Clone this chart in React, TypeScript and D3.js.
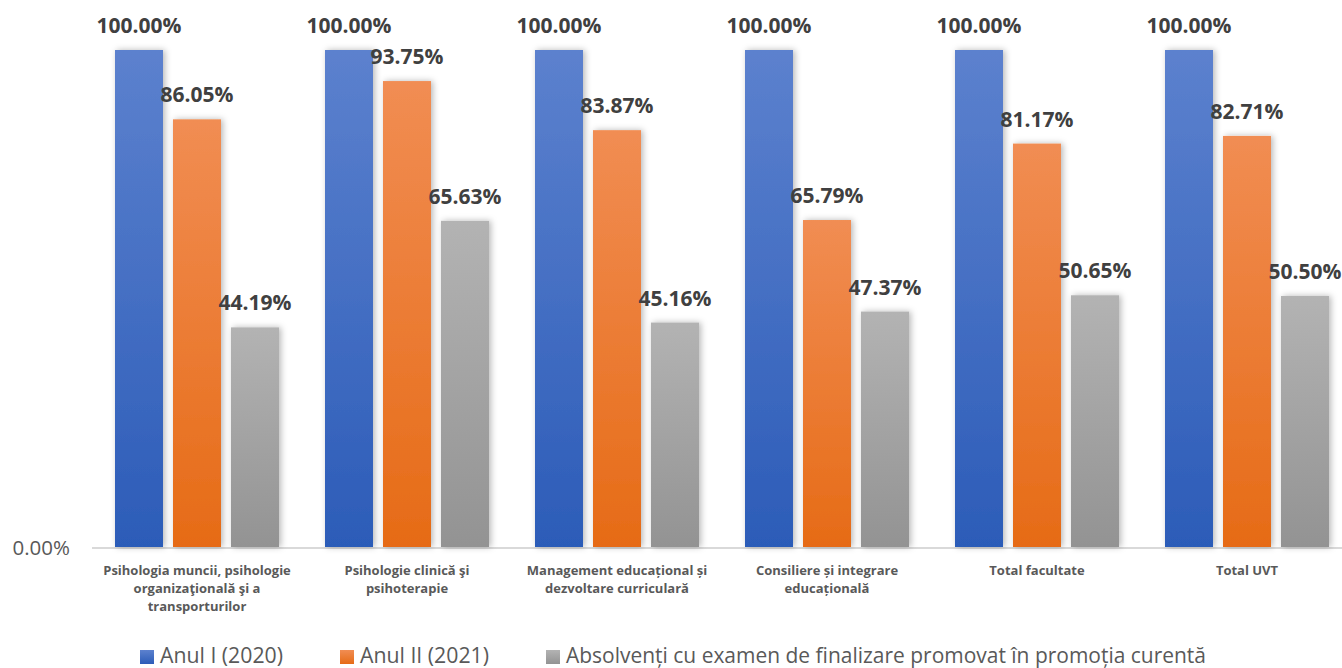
import React from "react";
import * as d3 from "d3";

const categories: string[][] = [
  ["Psihologia muncii, psihologie", "organizaţională şi a", "transporturilor"],
  ["Psihologie clinică şi", "psihoterapie"],
  ["Management educațional și", "dezvoltare curriculară"],
  ["Consiliere și integrare", "educațională"],
  ["Total facultate"],
  ["Total UVT"],
];
const seriesNames = ["Anul I (2020)", "Anul II (2021)", "Absolvenți cu examen de finalizare promovat în promoția curentă"];
const anulI = [100, 100, 100, 100, 100, 100];
const anulII = [86.05, 93.75, 83.87, 65.79, 81.17, 82.71];
const absolventi = [44.19, 65.63, 45.16, 47.37, 50.65, 50.5];
const yTickLabel = "0.00%";

const gradients = [
  { id: "gBlue", top: "#5C81CE", bottom: "#2C5CB8" },
  { id: "gOrange", top: "#F18D53", bottom: "#E66B16" },
  { id: "gGray", top: "#B3B3B3", bottom: "#939393" },
];
const legendX = [140, 340, 546];
const legendTextWidth = [123, 129, 640];

export default function App() {
  const W = 1342, H = 668;
  const series = [anulI, anulII, absolventi];
  const idx = categories.map((_, i) => String(i));
  const x0 = d3.scaleBand<string>().domain(idx).range([92, 1352]).padding(0);
  const x1 = d3.scaleBand<string>().domain(["0", "1", "2"]).range([23, 187]).paddingInner(10 / 58).paddingOuter(0);
  const y = d3.scaleLinear().domain([0, 100]).range([547, 50]);
  const font = "'Open Sans', sans-serif";

  return (
    <svg width={W} height={H} style={{ position: "absolute", left: 0, top: 0, background: "#fff" }}>
      <defs>
        {gradients.map((g) => (
          <linearGradient key={g.id} id={g.id} x1="0" y1="0" x2="0" y2="1">
            <stop offset="0" stopColor={g.top} />
            <stop offset="1" stopColor={g.bottom} />
          </linearGradient>
        ))}
        <filter id="shadow" x="-30%" y="-10%" width="160%" height="120%">
          <feDropShadow dx="2" dy="0" stdDeviation="3" floodColor="#000" floodOpacity="0.28" />
        </filter>
      </defs>
      <line x1={92} x2={1342} y1={548} y2={548} stroke="#D9D9D9" strokeWidth={2} />
      {series.map((vals, s) =>
        vals.map((v, i) => (
          <rect
            key={`b${s}-${i}`}
            x={x0(String(i))! + x1(String(s))!}
            y={y(v)}
            width={x1.bandwidth()}
            height={y(0) - y(v)}
            fill={`url(#${gradients[s].id})`}
            filter="url(#shadow)"
          />
        ))
      )}
      {series.map((vals, s) =>
        vals.map((v, i) => (
          <text
            key={`l${s}-${i}`}
            x={x0(String(i))! + x1(String(s))! + x1.bandwidth() / 2}
            y={y(v) - 17}
            textAnchor="middle"
            fontFamily={font}
            fontWeight="bold"
            fontSize={21}
            fill="#404040"
          >
            {v.toFixed(2) + "%"}
          </text>
        ))
      )}
      <text x={70} y={555} textAnchor="end" fontFamily={font} fontSize={20.5} fill="#595959">
        {yTickLabel}
      </text>
      {categories.map((lines, i) =>
        lines.map((ln, j) => (
          <text
            key={`c${i}-${j}`}
            x={x0(String(i))! + x0.bandwidth() / 2}
            y={575 + j * 18}
            textAnchor="middle"
            fontFamily={font}
            fontWeight="bold"
            fontSize={13}
            fill="#595959"
          >
            {ln}
          </text>
        ))
      )}
      {seriesNames.map((n, s) => (
        <g key={`lg${s}`}>
          <rect x={legendX[s]} y={650} width={14} height={14} fill={`url(#${gradients[s].id})`} />
          <text
            x={legendX[s] + 20}
            y={663}
            fontFamily={font}
            fontSize={21}
            fill="#595959"
            textLength={legendTextWidth[s]}
            lengthAdjust="spacingAndGlyphs"
          >
            {n}
          </text>
        </g>
      ))}
    </svg>
  );
}
